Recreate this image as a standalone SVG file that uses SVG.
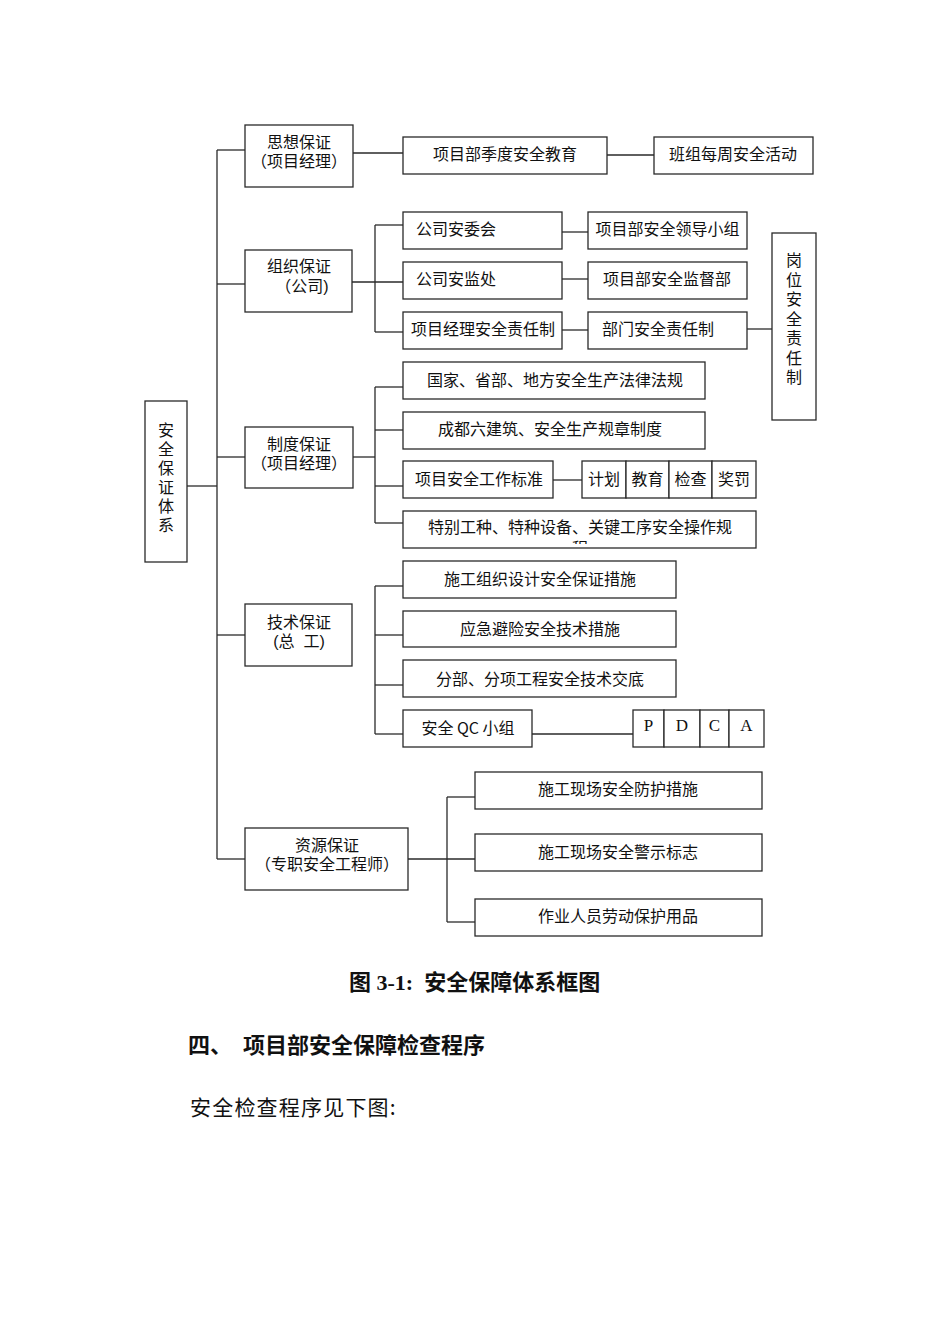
<svg xmlns="http://www.w3.org/2000/svg" width="950" height="1344" viewBox="0 0 950 1344">
<style>
rect.b{fill:#fff;stroke:#2a2a2a;stroke-width:1.3}
#connectors line{stroke:#2a2a2a;stroke-width:1.3}
text{font-family:"Noto Sans CJK SC","Noto Sans",sans-serif;font-size:16px;fill:#111;dominant-baseline:central;white-space:pre}
text.c{text-anchor:middle}
text.t2{font-family:"Liberation Sans","Noto Sans CJK SC",sans-serif}
text.v{writing-mode:vertical-rl;text-anchor:start}
text.s{font-family:"Liberation Serif","Noto Sans CJK SC",serif;font-size:17px;text-anchor:middle}
text.h{font-family:"Liberation Serif","Noto Sans CJK SC",serif;font-size:22px;font-weight:bold}
text.p{font-size:21px;letter-spacing:1.2px}
</style>
<defs>
<clipPath id="clipSpecial"><rect x="403" y="511" width="353" height="33"/></clipPath>
</defs>
<rect width="950" height="1344" fill="#fff"/>
<g id="connectors">
<line x1="187" y1="486" x2="217" y2="486"/>
<line x1="217" y1="150" x2="217" y2="859"/>
<line x1="217" y1="150" x2="245" y2="150"/>
<line x1="217" y1="284" x2="245" y2="284"/>
<line x1="217" y1="457" x2="245" y2="457"/>
<line x1="217" y1="635" x2="245" y2="635"/>
<line x1="217" y1="859" x2="245" y2="859"/>
<line x1="353" y1="153" x2="403" y2="153"/>
<line x1="607" y1="155" x2="654" y2="155"/>
<line x1="352" y1="282" x2="403" y2="282"/>
<line x1="375" y1="225" x2="375" y2="332"/>
<line x1="375" y1="225" x2="403" y2="225"/>
<line x1="375" y1="332" x2="403" y2="332"/>
<line x1="562" y1="232" x2="588" y2="232"/>
<line x1="562" y1="279" x2="588" y2="279"/>
<line x1="562" y1="330" x2="588" y2="330"/>
<line x1="747" y1="329" x2="772" y2="329"/>
<line x1="353" y1="457" x2="375" y2="457"/>
<line x1="375" y1="387" x2="375" y2="523"/>
<line x1="375" y1="387" x2="403" y2="387"/>
<line x1="375" y1="430" x2="403" y2="430"/>
<line x1="375" y1="486" x2="403" y2="486"/>
<line x1="375" y1="523" x2="403" y2="523"/>
<line x1="553" y1="480" x2="582" y2="480"/>
<line x1="375" y1="586" x2="375" y2="734"/>
<line x1="375" y1="586" x2="403" y2="586"/>
<line x1="375" y1="635" x2="403" y2="635"/>
<line x1="375" y1="685" x2="403" y2="685"/>
<line x1="375" y1="734" x2="403" y2="734"/>
<line x1="532" y1="734" x2="633" y2="734"/>
<line x1="408" y1="859" x2="475" y2="859"/>
<line x1="447" y1="797" x2="447" y2="922"/>
<line x1="447" y1="797" x2="475" y2="797"/>
<line x1="447" y1="922" x2="475" y2="922"/>
</g>
<g id="n-root"><rect class="b" x="145" y="401" width="42" height="161"/>
<text class="v" x="166" y="422" letter-spacing="3">安全保证体系</text></g>
<g id="n-sixiang"><rect class="b" x="245" y="125" width="108" height="62"/>
<text class="c t2" x="299" y="142">思想保证<tspan x="299" dy="19">（项目经理）</tspan></text></g>
<g id="n-jidu"><rect class="b" x="403" y="137" width="204" height="37"/><text class="c" x="505" y="153">项目部季度安全教育</text></g>
<g id="n-banzu"><rect class="b" x="654" y="137" width="159" height="37"/><text class="c" x="733" y="153">班组每周安全活动</text></g>
<g id="n-zuzhi"><rect class="b" x="245" y="250" width="107" height="62"/>
<text class="c t2" x="299" y="266">组织保证<tspan x="302" dy="20">（公司)</tspan></text></g>
<g id="n-anwei"><rect class="b" x="403" y="212" width="159" height="37"/><text x="416" y="228">公司安委会</text></g>
<g id="n-lingdao"><rect class="b" x="588" y="212" width="159" height="37"/><text class="c" x="667.5" y="228">项目部安全领导小组</text></g>
<g id="n-anjian"><rect class="b" x="403" y="262" width="159" height="37"/><text x="416" y="278">公司安监处</text></g>
<g id="n-jiandu"><rect class="b" x="588" y="262" width="159" height="37"/><text class="c" x="667" y="278">项目部安全监督部</text></g>
<g id="n-xmjl"><rect class="b" x="403" y="312" width="159" height="37"/><text class="c" x="483" y="328">项目经理安全责任制</text></g>
<g id="n-bumen"><rect class="b" x="588" y="312" width="159" height="37"/><text x="602" y="328">部门安全责任制</text></g>
<g id="n-gangwei"><rect class="b" x="772" y="233" width="44" height="187"/>
<text class="v" x="794" y="252" letter-spacing="3.5">岗位安全责任制</text></g>
<g id="n-zhidu"><rect class="b" x="245" y="427" width="108" height="61"/>
<text class="c t2" x="299" y="444">制度保证<tspan x="299" dy="19">（项目经理）</tspan></text></g>
<g id="n-guojia"><rect class="b" x="403" y="362" width="302" height="37"/><text class="c" x="555" y="379">国家、省部、地方安全生产法律法规</text></g>
<g id="n-chengdu"><rect class="b" x="403" y="412" width="302" height="37"/><text class="c" x="550" y="428">成都六建筑、安全生产规章制度</text></g>
<g id="n-biaozhun"><rect class="b" x="403" y="461" width="150" height="37"/><text class="c" x="479" y="478">项目安全工作标准</text></g>
<g id="n-jihua"><rect class="b" x="582" y="461" width="44" height="37"/><text class="c" x="604" y="478">计划</text></g>
<g id="n-jiaoyu"><rect class="b" x="626" y="461" width="43" height="37"/><text class="c" x="647.5" y="478">教育</text></g>
<g id="n-jiancha"><rect class="b" x="669" y="461" width="43" height="37"/><text class="c" x="690.5" y="478">检查</text></g>
<g id="n-jiangfa"><rect class="b" x="712" y="461" width="44" height="37"/><text class="c" x="734" y="478">奖罚</text></g>
<g id="n-tebie"><rect class="b" x="403" y="511" width="353" height="37"/>
<g clip-path="url(#clipSpecial)"><text class="c t2" x="580" y="527">特别工种、特种设备、关键工序安全操作规<tspan x="580" dy="21">程</tspan></text></g></g>
<g id="n-jishu"><rect class="b" x="245" y="604" width="107" height="62"/>
<text class="c t2" x="299" y="622">技术保证<tspan x="299" dy="19">(总  工)</tspan></text></g>
<g id="n-shigong"><rect class="b" x="403" y="561" width="273" height="37"/><text class="c" x="540" y="578">施工组织设计安全保证措施</text></g>
<g id="n-yingji"><rect class="b" x="403" y="611" width="273" height="36"/><text class="c" x="540" y="628">应急避险安全技术措施</text></g>
<g id="n-fenbu"><rect class="b" x="403" y="660" width="273" height="37"/><text class="c" x="540" y="678">分部、分项工程安全技术交底</text></g>
<g id="n-qc"><rect class="b" x="403" y="710" width="129" height="37"/><text class="c" x="468" y="727">安全 QC 小组</text></g>
<g id="n-p"><rect class="b" x="633" y="710" width="31" height="37"/><text class="s" x="648.5" y="725">P</text></g>
<g id="n-d"><rect class="b" x="664" y="710" width="36" height="37"/><text class="s" x="682" y="725">D</text></g>
<g id="n-c"><rect class="b" x="700" y="710" width="29" height="37"/><text class="s" x="714.5" y="725">C</text></g>
<g id="n-a"><rect class="b" x="729" y="710" width="35" height="37"/><text class="s" x="746.5" y="725">A</text></g>
<g id="n-ziyuan"><rect class="b" x="245" y="828" width="163" height="62"/>
<text class="c t2" x="327" y="845">资源保证<tspan x="327" dy="19">（专职安全工程师）</tspan></text></g>
<g id="n-fanghu"><rect class="b" x="475" y="772" width="287" height="37"/><text class="c" x="618" y="788">施工现场安全防护措施</text></g>
<g id="n-jingshi"><rect class="b" x="475" y="834" width="287" height="37"/><text class="c" x="618" y="851">施工现场安全警示标志</text></g>
<g id="n-laodong"><rect class="b" x="475" y="899" width="287" height="37"/><text class="c" x="618" y="915">作业人员劳动保护用品</text></g>
<text class="h" x="349" y="982">图 3-1:  安全保障体系框图</text>
<text class="h" x="188" y="1045">四、</text>
<text class="h" x="243" y="1045">项目部安全保障检查程序</text>
<text class="p" x="190" y="1106">安全检查程序见下图:</text>
</svg>
